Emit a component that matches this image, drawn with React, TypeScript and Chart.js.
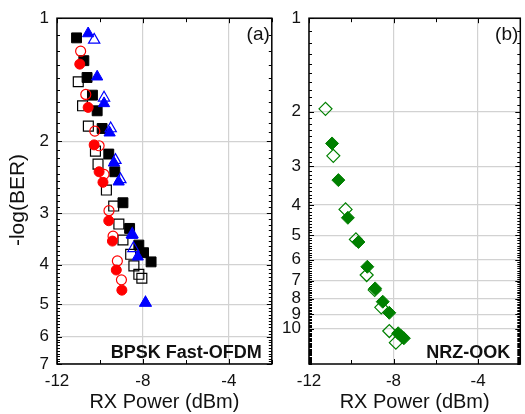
import React, { useEffect, useRef } from 'react';
import { Chart, registerables } from 'chart.js';
Chart.register(...registerables);

type P = [number, number];

// ---- axis definitions ----
const xTickValues = [-12, -8, -4];
const xMin = -12;
const xMax = -2;
const yTicksA = [1, 2, 3, 4, 5, 6, 7];
const yTicksB = [1, 2, 3, 4, 5, 6, 7, 8, 9, 10];
const yMaxA = 7;
const yMaxB = 13;

// ---- panel (a): BPSK Fast-OFDM ----
const squareFilled: P[] = [
  [-11.09, 1.117], [-10.75, 1.27], [-10.6, 1.396], [-10.35, 1.542], [-10.13, 1.684],
  [-9.9, 1.86], [-9.59, 2.148], [-9.31, 2.373], [-8.93, 2.825], [-8.62, 3.264],
  [-8.19, 3.585], [-7.97, 3.742], [-7.62, 3.94],
];
const squareOpen: P[] = [
  [-11.01, 1.43], [-10.81, 1.637], [-10.54, 1.835], [-10.21, 2.113], [-10.09, 2.273],
  [-9.7, 2.63], [-9.36, 2.878], [-9.12, 3.185], [-8.93, 3.484], [-8.57, 3.776],
  [-8.42, 4.03], [-8.19, 4.226], [-8.05, 4.32],
];
const circleFilled: P[] = [
  [-10.94, 1.295], [-10.55, 1.652], [-10.27, 2.04], [-10.04, 2.373], [-9.86, 2.518],
  [-9.59, 3.126], [-9.42, 3.505], [-9.24, 4.125], [-8.98, 4.62],
];
const circleOpen: P[] = [
  [-10.9, 1.204], [-10.66, 1.536], [-10.24, 1.888], [-10.04, 2.05], [-9.81, 2.408],
  [-9.58, 2.954], [-9.39, 3.41], [-9.19, 3.92], [-9.0, 4.36],
];
const triangleFilled: P[] = [
  [-10.55, 1.09], [-10.13, 1.39], [-9.81, 1.615], [-9.55, 1.905], [-9.35, 2.256],
  [-9.13, 2.51], [-8.5, 3.39], [-8.24, 3.828], [-7.88, 4.96],
];
const triangleOpen: P[] = [
  [-10.27, 1.13], [-9.81, 1.565], [-9.5, 1.86], [-9.28, 2.222], [-9.05, 2.477],
  [-8.5, 3.37], [-8.44, 3.65], [-7.88, 4.96],
];

// ---- panel (b): NRZ-OOK ----
const diamondFilled: P[] = [
  [-10.91, 2.532], [-10.61, 3.323], [-10.16, 4.395], [-9.66, 5.26], [-9.24, 6.32],
  [-8.87, 7.42], [-8.51, 8.19], [-8.2, 8.89], [-7.78, 10.35], [-7.65, 10.55], [-7.51, 10.74],
];
const diamondOpen: P[] = [
  [-11.22, 1.959], [-10.85, 2.776], [-10.27, 4.13], [-9.78, 5.16], [-9.27, 6.72],
  [-8.89, 7.51], [-8.58, 8.54], [-8.2, 10.18], [-7.89, 11.1],
];

const FONT = '"Liberation Sans", Arial, Helvetica, sans-serif';
const toXY = (arr: P[]) => arr.map(([x, y]) => ({ x, y }));

function ds(data: P[], style: string, color: string, filled: boolean, radius: number) {
  return {
    type: 'scatter' as const,
    data: toXY(data),
    pointStyle: style,
    pointRadius: radius,
    pointBorderWidth: filled ? 1 : 1.2,
    pointBackgroundColor: filled ? color : 'rgba(255,255,255,0)',
    pointBorderColor: color,
    showLine: false,
  };
}

interface PanelSpec {
  canvasLeft: number;
  canvasWidth: number;
  yAxisWidth: number;
  padRight: number;
  yTicks: number[];
  yMax: number;
  datasets: any[];
  panelLabel: string;
  caption: string;
  yTitle?: string;
}

function makePlugin(spec: PanelSpec) {
  return {
    id: 'decor',
    afterDatasetsDraw(chart: any) {
      const { ctx, chartArea } = chart;
      const { left, right, top, bottom } = chartArea;
      const xs = chart.scales.x;
      const ys = chart.scales.y;
      ctx.save();
      ctx.strokeStyle = '#000';
      ctx.lineWidth = 1;
      ctx.beginPath();
      for (let v = xMin; v <= xMax; v += 2) {
        const px = Math.round(xs.getPixelForValue(v)) + 0.5;
        const len = v % 4 === 0 ? 5 : 4;
        ctx.moveTo(px, top);
        ctx.lineTo(px, top + len);
        ctx.moveTo(px, bottom);
        ctx.lineTo(px, bottom - len);
      }
      for (let i = 10; i <= spec.yMax * 10; i++) {
        const v = i / 10;
        const py = Math.round(ys.getPixelForValue(v)) + 0.5;
        const major = i % 10 === 0 && spec.yTicks.includes(v);
        const len = major ? 5 : 3;
        ctx.moveTo(left, py);
        ctx.lineTo(left + len, py);
        ctx.moveTo(right, py);
        ctx.lineTo(right - len, py);
      }
      ctx.stroke();
      ctx.lineWidth = 1.5;
      ctx.strokeRect(left, top, right - left, bottom - top);

      ctx.fillStyle = '#111';
      ctx.font = `19px ${FONT}`;
      ctx.textAlign = 'right';
      ctx.textBaseline = 'middle';
      ctx.fillText(spec.panelLabel, right - 2, top + 17);

      ctx.font = `bold 18px ${FONT}`;
      ctx.textAlign = 'right';
      ctx.textBaseline = 'alphabetic';
      ctx.fillText(spec.caption, right - 10, bottom - 6);

      ctx.font = `20px ${FONT}`;
      ctx.textAlign = 'center';
      ctx.textBaseline = 'alphabetic';
      ctx.fillText('RX Power (dBm)', (left + right) / 2, bottom + 44);

      if (spec.yTitle) {
        ctx.save();
        ctx.translate(18.5, 200);
        ctx.rotate(-Math.PI / 2);
        ctx.textAlign = 'center';
        ctx.textBaseline = 'middle';
        ctx.font = `21px ${FONT}`;
        ctx.fillText(spec.yTitle, 0, 0);
        ctx.restore();
      }
      ctx.restore();
    },
  };
}

function Panel({ spec }: { spec: PanelSpec }) {
  const ref = useRef<HTMLCanvasElement | null>(null);
  useEffect(() => {
    if (!ref.current) return;
    const chart = new Chart(ref.current, {
      type: 'scatter',
      data: { datasets: spec.datasets },
      options: {
        animation: false,
        responsive: false,
        devicePixelRatio: 1,
        events: [],
        layout: { padding: { top: 18, right: spec.padRight, left: 0, bottom: 0 } },
        plugins: { legend: { display: false }, tooltip: { enabled: false } },
        scales: {
          x: {
            type: 'linear',
            min: xMin,
            max: xMax,
            afterBuildTicks: (s: any) => {
              s.ticks = xTickValues.map((v) => ({ value: v }));
            },
            afterFit: (s: any) => {
              s.height = 50;
            },
            ticks: {
              autoSkip: false,
              maxRotation: 0,
              padding: 7,
              color: '#111',
              font: { family: FONT, size: 17 },
              callback: (v: any) => String(v),
            },
            grid: { color: '#d2d2d2', lineWidth: 1.2, drawTicks: false },
            border: { display: false },
          },
          y: {
            type: 'logarithmic',
            reverse: true,
            min: 1,
            max: spec.yMax,
            afterBuildTicks: (s: any) => {
              s.ticks = spec.yTicks.map((v) => ({ value: v }));
            },
            afterFit: (s: any) => {
              s.width = spec.yAxisWidth;
            },
            ticks: {
              autoSkip: false,
              padding: 8,
              color: '#111',
              font: { family: FONT, size: 17 },
              callback: (v: any) => String(v),
            },
            grid: { color: '#d2d2d2', lineWidth: 1.2, drawTicks: false },
            border: { display: false },
          },
        },
      } as any,
      plugins: [makePlugin(spec)],
    });
    return () => chart.destroy();
  }, [spec]);
  return (
    <canvas
      ref={ref}
      width={spec.canvasWidth}
      height={414}
      style={{ position: 'absolute', left: spec.canvasLeft, top: 0, width: spec.canvasWidth, height: 414 }}
    />
  );
}

const specA: PanelSpec = {
  canvasLeft: 0,
  canvasWidth: 280,
  yAxisWidth: 57,
  padRight: 7,
  yTicks: yTicksA,
  yMax: yMaxA,
  panelLabel: '(a)',
  caption: 'BPSK Fast-OFDM',
  yTitle: '-log(BER)',
  datasets: [
    ds(circleFilled, 'circle', '#ff0000', true, 5),
    ds(circleOpen, 'circle', '#ff0000', false, 5),
    ds(triangleFilled, 'triangle', '#0000ff', true, 6.5),
    ds(triangleOpen, 'triangle', '#0000ff', false, 6.5),
    ds(squareFilled, 'rect', '#000000', true, 7),
    ds(squareOpen, 'rect', '#000000', false, 7),
  ],
};

const specB: PanelSpec = {
  canvasLeft: 278,
  canvasWidth: 250,
  yAxisWidth: 31,
  padRight: 2,
  yTicks: yTicksB,
  yMax: yMaxB,
  panelLabel: '(b)',
  caption: 'NRZ-OOK',
  datasets: [
    ds(diamondFilled, 'rectRot', '#008000', true, 6.5),
    ds(diamondOpen, 'rectRot', '#008000', false, 6.5),
  ],
};

export default function App() {
  return (
    <div
      style={{
        position: 'fixed',
        left: 0,
        top: 0,
        width: 525,
        height: 414,
        overflow: 'hidden',
        background: '#fff',
      }}
    >
      <Panel spec={specA} />
      <Panel spec={specB} />
    </div>
  );
}
